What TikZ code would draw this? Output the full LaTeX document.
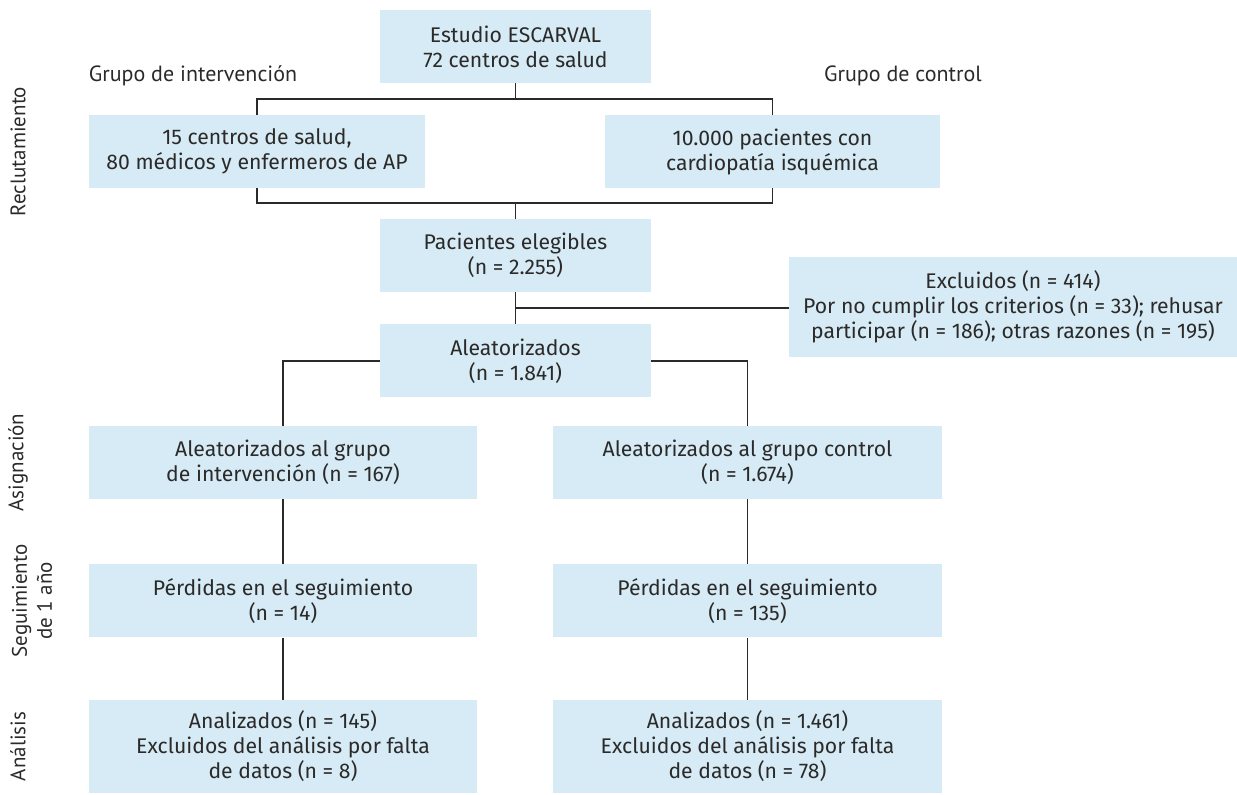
\documentclass[tikz,border=0pt]{standalone}
\usepackage{fontspec}
\setmainfont{Fira Sans}
\newfontfamily\etiq{PT Sans}
\usetikzlibrary{positioning}
\definecolor{celeste}{HTML}{D6EBF5}
\definecolor{tinta}{HTML}{2B2A29}

\begin{document}
\begin{tikzpicture}[x=0.5pt, y=-0.5pt,
		caja/.style={fill=celeste, draw=none, align=center, inner sep=0pt,
			minimum height=36.5pt, text=tinta, font=\fontsize{10.6}{12.5}\selectfont},
		grupo/.style={text=tinta, font=\etiq\fontsize{11}{12.5}\selectfont, inner sep=0pt},
		fase/.style={grupo, font=\etiq\fontsize{10.5}{12.5}\selectfont, rotate=90, align=center},
		linea/.style={draw=tinta, line width=0.7pt}]
	\useasboundingbox (0,0) rectangle (1237,795);

	\node[caja, minimum width=135.5pt] (estudio) at (515.5,46.5) {Estudio ESCARVAL\\72 centros de salud};
	\node[grupo] (gint) at (193,76) {Grupo de intervención};
	\node[grupo] (gcon) at (903,76) {Grupo de control};
	\node[caja, minimum width=168pt] (centros) at (257,151.5) {15 centros de salud,\\80 médicos y enfermeros de AP};
	\node[caja, minimum width=167.5pt] (pacientes) at (772.5,151.5) {10.000 pacientes con\\cardiopatía isquémica};
	\node[caja, minimum width=135.5pt] (elegibles) at (515.5,255.5) {Pacientes elegibles\\(n = 2.255)};
	\node[caja, minimum width=224pt, minimum height=50pt] (excluidos) at (1013,307)
		{Excluidos (n = 414)\\Por no cumplir los criterios (n = 33); rehusar\\participar (n = 186); otras razones (n = 195)};
	\node[caja, minimum width=135.5pt] (aleat) at (515.5,361) {Aleatorizados\\(n = 1.841)};

	\node[caja, minimum width=194pt] (asigint) at (283,462.5) {Aleatorizados al grupo\\de intervención (n = 167)};
	\node[caja, minimum width=194.5pt] (asigcon) at (747.5,462.5) {Aleatorizados al grupo control\\(n = 1.674)};
	\node[caja, minimum width=194pt] (segint) at (283,601) {Pérdidas en el seguimiento\\(n = 14)};
	\node[caja, minimum width=194.5pt] (segcon) at (747.5,601) {Pérdidas en el seguimiento\\(n = 135)};
	\node[caja, minimum width=194pt, minimum height=46.5pt] (anint) at (283,746.5)
		{Analizados (n = 145)\\Excluidos del análisis por falta\\de datos (n = 8)};
	\node[caja, minimum width=194.5pt, minimum height=46.5pt] (ancon) at (747.5,746.5)
		{Analizados (n = 1.461)\\Excluidos del análisis por falta\\de datos (n = 78)};

	\node[fase] (reclut) at (18,151.5) {Reclutamiento};
	\node[fase] (asig) at (18,462.5) {Asignación};
	\node[fase] (segui) at (32,601) {Seguimiento\\de 1 año};
	\node[fase] (anal) at (18,746.5) {Análisis};

	\coordinate (rama1) at (515.5,99);
	\coordinate (rama2) at (515.5,203);
	\coordinate (rama3) at (515.5,308);
	\draw[linea] (estudio.south) -- (rama1);
	\draw[linea] (centros.north) |- (rama1) -| (pacientes.north);
	\draw[linea] (centros.south) |- (rama2) -| (pacientes.south);
	\draw[linea] (rama2) -- (elegibles.north);
	\draw[linea] (elegibles.south) -- (aleat.north);
	\draw[linea] (rama3) -- (rama3 -| excluidos.west);
	\draw[linea] (aleat.west) -| (asigint.north);
	\draw[linea] (aleat.east) -| (asigcon.north);
	\foreach \a/\b in {asigint/segint, segint/anint, asigcon/segcon, segcon/ancon} {
		\draw[linea] (\a.south) -- (\b.north);
	}
\end{tikzpicture}
\end{document}
